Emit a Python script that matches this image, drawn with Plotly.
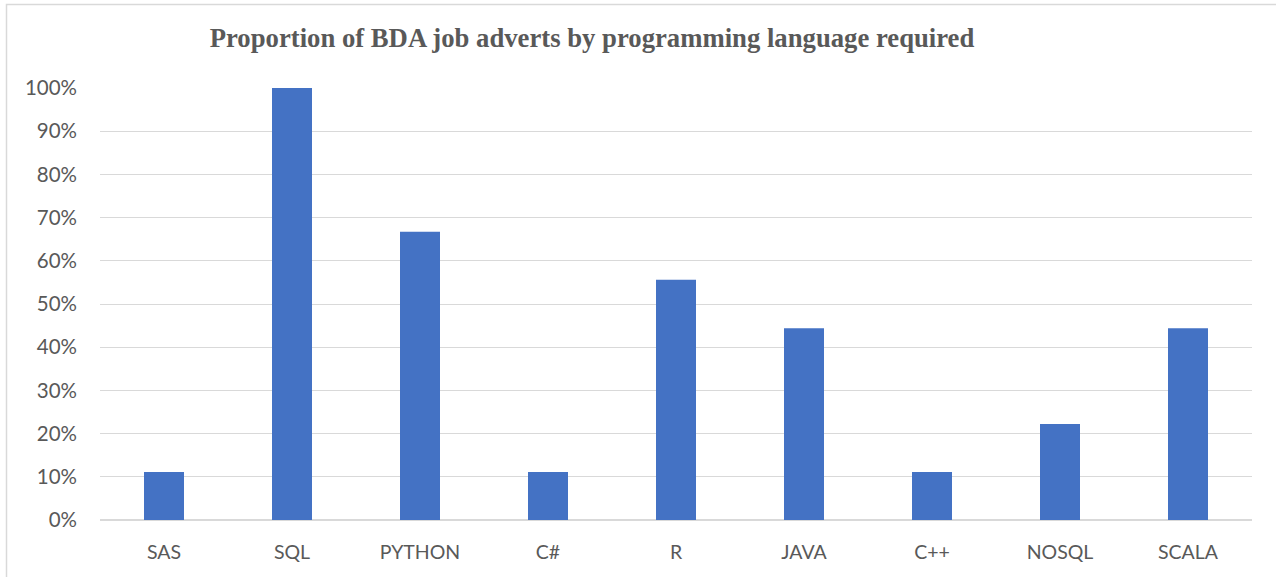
import plotly.graph_objects as go

# Share of BDA job adverts mentioning each language
languages = ["SAS", "SQL", "PYTHON", "C#", "R", "JAVA", "C++", "NOSQL", "SCALA"]
proportions = [0.111, 1.0, 0.667, 0.111, 0.556, 0.444, 0.111, 0.222, 0.444]
y_ticks = [0, 0.1, 0.2, 0.3, 0.4, 0.5, 0.6, 0.7, 0.8, 0.9, 1.0]

W, H = 1276, 577
L, R, T, B = 100, 24, 88, 57
pw, ph = W - L - R, H - T - B

text_color = "#595959"
grid_color = "#d9d9d9"

fig = go.Figure(
    go.Bar(
        x=languages,
        y=proportions,
        marker=dict(color="#4472c4", line=dict(width=0)),
        hoverinfo="x+y",
    )
)

fig.update_layout(
    width=W,
    height=H,
    margin=dict(l=L, r=R, t=T, b=B),
    paper_bgcolor="white",
    plot_bgcolor="white",
    bargap=0.6875,
    showlegend=False,
    font=dict(family="Lato, Calibri, sans-serif", size=20, color=text_color),
    title=dict(
        text="<b>Proportion of BDA job adverts by programming language required</b>",
        font=dict(family="Liberation Serif, Times New Roman, serif", size=26.7, color=text_color),
        x=592 / W,
        xanchor="center",
        y=1 - 38 / H,
        yanchor="middle",
    ),
    xaxis=dict(
        showgrid=False,
        showline=False,
        ticks="",
        ticklabelstandoff=18,
        tickfont=dict(size=19.5, color=text_color),
    ),
    yaxis=dict(
        range=[0, 1],
        tickvals=y_ticks,
        tickformat=".0%",
        showgrid=True,
        gridcolor=grid_color,
        gridwidth=1,
        zeroline=True,
        zerolinecolor=grid_color,
        zerolinewidth=2,
        showline=False,
        ticks="",
        ticklabelstandoff=22,
        tickfont=dict(size=20.5, color=text_color),
    ),
    shapes=[
        dict(
            type="rect",
            xref="paper",
            yref="paper",
            x0=(6.5 - L) / pw,
            x1=(W + 10 - L) / pw,
            y0=-(B + 10) / ph,
            y1=1 + (T - 4.5) / ph,
            line=dict(color="#d9d9d9", width=1.5),
            fillcolor="rgba(0,0,0,0)",
            layer="below",
        )
    ],
)

fig.write_html("out.html")
